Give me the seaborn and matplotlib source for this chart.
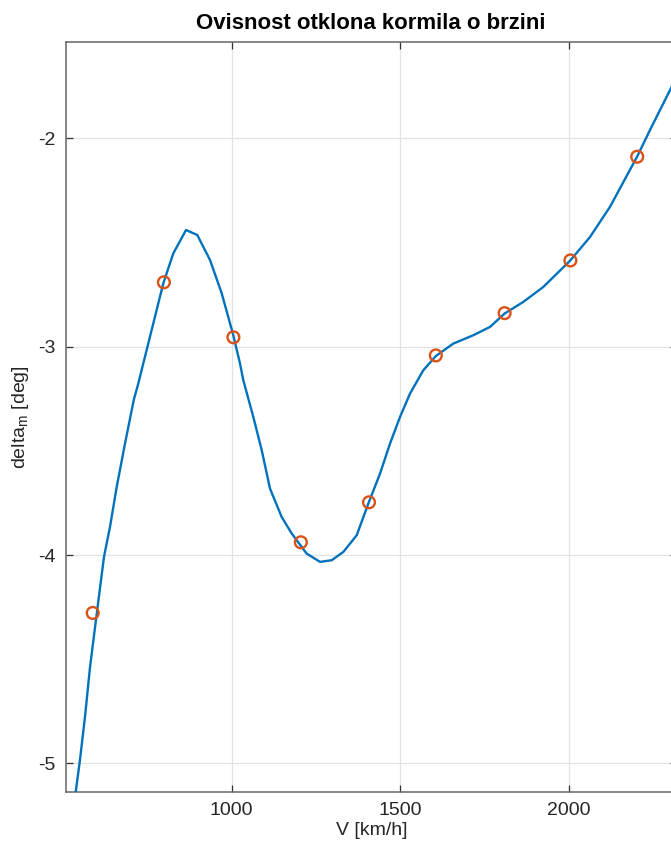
import matplotlib
matplotlib.use("Agg")
import matplotlib.pyplot as plt
import seaborn as sns
import pandas as pd

# Computed elevator deflection along the speed range (smooth curve)
V_curve = [537.5, 550, 565, 580, 595, 607.5, 621.4, 639.2, 659.1, 683.7, 709.5,
           723, 757.6, 797.2, 826.9, 864.5, 898, 935.7, 970.4, 1004.7, 1024.6,
           1034.4, 1064, 1089, 1113.5, 1148, 1178, 1222, 1262, 1296.5, 1331,
           1370.6, 1405, 1439.7, 1469.3, 1499, 1528.6, 1568, 1605.7, 1657,
           1716.3, 1765.8, 1808.8, 1864.5, 1923.8, 2003.8, 2062.3, 2121.6,
           2201.6, 2240, 2305]
delta_curve = [-5.138, -4.986, -4.778, -4.538, -4.345, -4.185, -4.009, -3.865,
               -3.673, -3.465, -3.257, -3.177, -2.953, -2.696, -2.552, -2.440,
               -2.464, -2.584, -2.744, -2.945, -3.081, -3.161, -3.337, -3.497,
               -3.681, -3.817, -3.897, -3.993, -4.033, -4.025, -3.985, -3.905,
               -3.753, -3.609, -3.465, -3.337, -3.225, -3.113, -3.044, -2.985,
               -2.945, -2.905, -2.841, -2.785, -2.713, -2.586, -2.473, -2.328,
               -2.088, -1.960, -1.750]

# Discrete trim points
V_points = [588, 799, 1005, 1205, 1407, 1605, 1809, 2004, 2202]
delta_points = [-4.278, -2.691, -2.955, -3.939, -3.747, -3.042, -2.839, -2.586, -2.088]

x_ticks = [1000, 1500, 2000]
y_ticks = [-5, -4, -3, -2]

curve = pd.DataFrame({"V": V_curve, "delta": delta_curve})
points = pd.DataFrame({"V": V_points, "delta": delta_points})

sns.set_theme(style="whitegrid")
plt.rcParams["font.family"] = ["Liberation Sans", "DejaVu Sans"]
plt.rcParams["mathtext.fontset"] = "custom"
plt.rcParams["mathtext.rm"] = "Liberation Sans"
plt.rcParams["mathtext.it"] = "Liberation Sans"

fig = plt.figure(figsize=(6.71, 8.51), dpi=100)
fig.patch.set_facecolor("white")
ax = fig.add_axes([65.5 / 671, (851 - 792.3) / 851, (677 - 65.5) / 671, (792.3 - 41.7) / 851])
ax.set_facecolor("white")

sns.lineplot(data=curve, x="V", y="delta", ax=ax, sort=False, estimator=None,
             color="#0072BD", linewidth=1.7, zorder=3)
sns.scatterplot(data=points, x="V", y="delta", ax=ax, marker="o", s=72,
                facecolor="none", edgecolor="#D95319", linewidth=1.7, zorder=4)

ax.set_xticks(x_ticks)
ax.set_yticks(y_ticks)
ax.set_xticklabels([str(t) for t in x_ticks])
ax.set_yticklabels([str(t) for t in y_ticks])
ax.set_xlim(507.3, 2320)
ax.set_ylim(-5.139, -1.536)

ax.grid(True, color="#e3e3e3", linewidth=0.9)
ax.set_axisbelow(True)
for side in ["left", "bottom", "top", "right"]:
    ax.spines[side].set_visible(True)
    ax.spines[side].set_color("#666666")
    ax.spines[side].set_linewidth(1.1)

ax.tick_params(axis="both", which="major", direction="in", length=5, width=0.9,
               color="#333333", labelsize=14, labelcolor="#262626",
               top=True, right=True, bottom=True, left=True, pad=7)

ax.set_xlabel("V [km/h]", fontsize=14, color="#262626", labelpad=2)
ax.set_ylabel(r"delta$_{\mathrm{m}}$ [deg]", fontsize=14, color="#262626", labelpad=5)
ax.set_title("Ovisnost otklona kormila o brzini", fontsize=16, fontweight="bold",
             color="black", pad=9)

fig.savefig("out.png", dpi=100, facecolor="white")
